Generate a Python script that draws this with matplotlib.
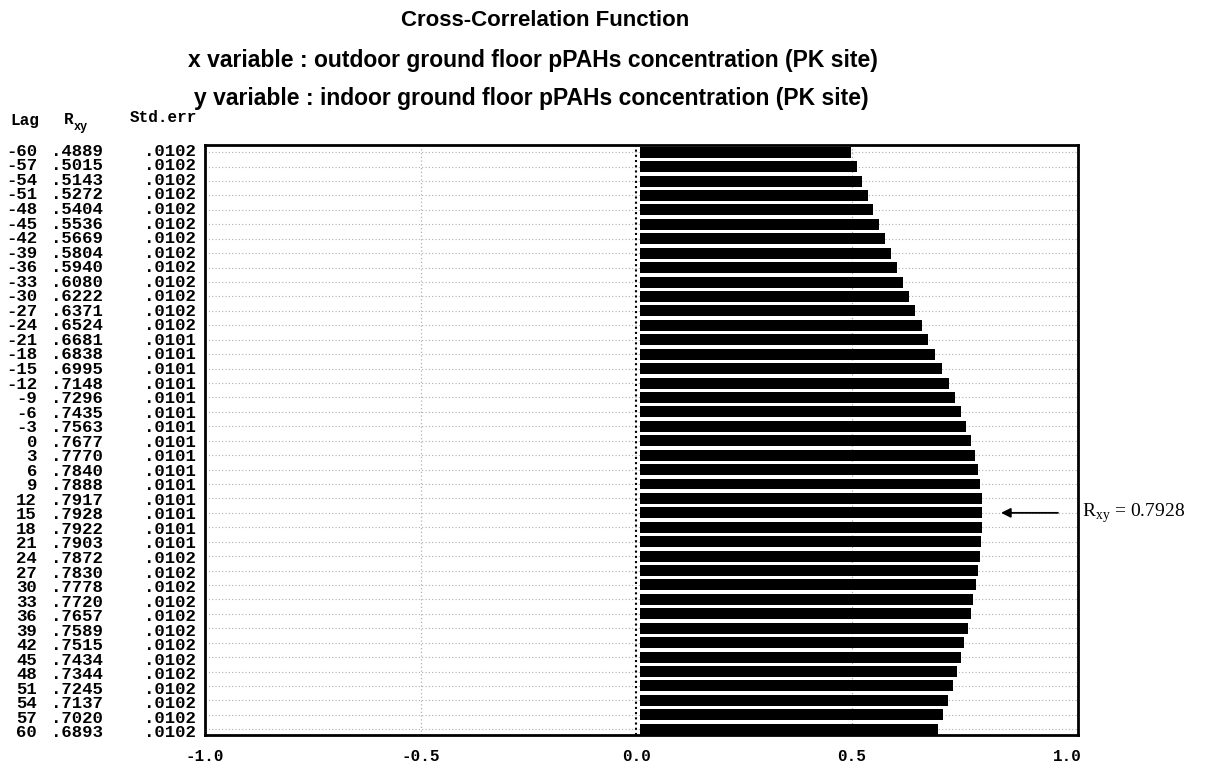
import matplotlib
matplotlib.use('Agg')
import matplotlib.pyplot as plt
from matplotlib.font_manager import FontProperties
from matplotlib.transforms import blended_transform_factory

lags = list(range(-60, 61, 3))
rxy = [.4889, .5015, .5143, .5272, .5404, .5536, .5669, .5804, .5940, .6080,
       .6222, .6371, .6524, .6681, .6838, .6995, .7148, .7296, .7435, .7563,
       .7677, .7770, .7840, .7888, .7917, .7928, .7922, .7903, .7872, .7830,
       .7778, .7720, .7657, .7589, .7515, .7434, .7344, .7245, .7137, .7020,
       .6893]
std_err = ['.0102'] * 13 + ['.0101'] * 15 + ['.0102'] * 13
xticks = [-1.0, -0.5, 0.0, 0.5, 1.0]
peak_lag = 15
peak_r = 0.7928

W, H = 1206, 770
fig = plt.figure(figsize=(W / 100, H / 100), dpi=100)
ax_h = 590
ax = fig.add_axes([205 / W, 1 - 735 / H, 873 / W, ax_h / H])

rows = list(range(len(lags)))
# dotted guide lines behind the bars
for r in rows:
    ax.axhline(r, color='#b0b0b0', linestyle=(0, (1, 2)), linewidth=0.8, zorder=0)
for xv in [-0.5, 0.5]:
    ax.axvline(xv, color='#b0b0b0', linestyle=(0, (1, 2)), linewidth=0.9, zorder=0)
ax.axvline(0, color='black', linestyle=(0, (1, 1.5)), linewidth=1.5, zorder=1)

ax.barh(rows, rxy, height=0.76, left=0.01, color='black', zorder=2)

ylo, yhi = len(lags) - 0.6, -0.5
ax.set_xlim(-1.0, 1.025)
ax.set_ylim(ylo, yhi)
ax.set_yticks([])
ax.set_xticks(xticks)
ax.set_xticklabels([f'{v:.1f}' for v in xticks], fontfamily='Liberation Mono',
                   fontweight='bold', fontsize=11.5)
ax.tick_params(axis='x', length=0, pad=10)
for s in ax.spines.values():
    s.set_linewidth(2)

# left-hand table: one multi-line text per column, line pitch = row pitch
row_px = ax_h / (ylo - yhi)
fp = FontProperties(family='Liberation Mono', weight='bold', size=12.5)
rend = fig.canvas.get_renderer()
probe1 = fig.text(0, 0, '0', fontproperties=fp, linespacing=1.0)
probe2 = fig.text(0, 0, '0\n0', fontproperties=fp, linespacing=1.0)
unit = (probe2.get_window_extent(rend).height
        - probe1.get_window_extent(rend).height)
probe1.remove()
probe2.remove()
lsp = row_px / unit

tr = blended_transform_factory(fig.transFigure, ax.transData)
mid = (len(lags) - 1) / 2
cols = [(37, [str(v) for v in lags]),
        (103, [f'{v:.4f}'[1:] for v in rxy]),
        (196, std_err)]
for xpx, vals in cols:
    ax.text(xpx / W, mid + 0.1, '\n'.join(vals), ha='right', va='center',
            fontproperties=fp, linespacing=lsp, transform=tr)

hdr = dict(fontfamily='Liberation Mono', fontweight='bold', fontsize=11.5)
fig.text(10 / W, 1 - 121 / H, 'Lag', va='center', **hdr)
fig.text(64 / W, 1 - 120 / H, 'R', va='center', **hdr)
fig.text(74 / W, 1 - 127 / H, 'xy', va='center', fontsize=8.5,
         fontfamily='Liberation Mono', fontweight='bold')
fig.text(130 / W, 1 - 118 / H, 'Std.err', va='center', **hdr)

# titles
tfont = ['Liberation Sans Narrow', 'Liberation Sans']
fig.text(545 / W, 1 - 21 / H, 'Cross-Correlation Function', ha='center', va='center',
         fontsize=16, fontweight='bold', family=tfont)
fig.text(533 / W, 1 - 60 / H,
         'x variable : outdoor ground floor pPAHs concentration (PK site)',
         ha='center', va='center', fontsize=16.5, fontweight='bold', family=tfont)
fig.text(531 / W, 1 - 99 / H,
         'y variable : indoor ground floor pPAHs concentration (PK site)',
         ha='center', va='center', fontsize=16.5, fontweight='bold', family=tfont)

# peak annotation
pr = lags.index(peak_lag)
ax.annotate('', xy=(0.84, pr), xytext=(0.985, pr),
            arrowprops=dict(arrowstyle='-|>', color='black', lw=1.3,
                            mutation_scale=14))
ax.text(1.035, pr, r'R$_{\mathregular{xy}}$ = ' + f'{peak_r:.4f}', va='center',
        ha='left', fontsize=14, fontfamily='Liberation Serif', clip_on=False)

fig.savefig('out.png', dpi=100)
